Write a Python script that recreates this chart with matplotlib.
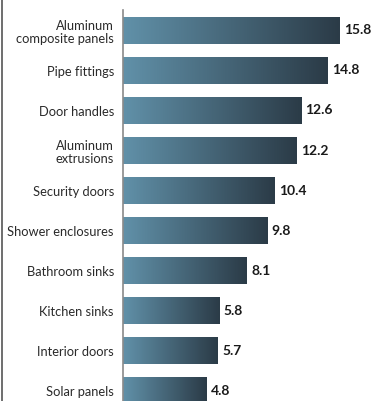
import numpy as np
import matplotlib.pyplot as plt
from matplotlib.colors import LinearSegmentedColormap
from matplotlib.lines import Line2D

categories = ["Aluminum\ncomposite panels", "Pipe fittings", "Door handles",
              "Aluminum\nextrusions", "Security doors", "Shower enclosures",
              "Bathroom sinks", "Kitchen sinks", "Interior doors", "Solar panels"]
values = [15.8, 14.8, 12.6, 12.2, 10.4, 9.8, 8.1, 5.8, 5.7, 4.8]

plt.rcParams['font.family'] = ['Lato', 'DejaVu Sans']

base = -2.15  # bars start a little left of zero, as in the original
cmap = LinearSegmentedColormap.from_list("steel", ["#6191a9", "#2b3b47"])
grad = np.linspace(0, 1, 256).reshape(1, -1)

fig = plt.figure(figsize=(3.75, 4.01), dpi=100)
ax = fig.add_axes([123 / 375, 0, 1 - 123 / 375, 391 / 401])

bar_h = 0.67
y = np.arange(len(values))
bars = ax.barh(y, np.array(values) - base, left=base, height=bar_h, color="none")
for yi, b in zip(y, bars):
    x0 = b.get_x()
    x1 = x0 + b.get_width()
    ax.imshow(grad, cmap=cmap, aspect="auto", interpolation="bilinear",
              extent=(x0, x1, yi + bar_h / 2, yi - bar_h / 2), zorder=2)
    ax.text(x1 + 0.35, yi, f"{values[yi]:.1f}", va="center", ha="left",
            fontsize=10, fontweight="bold", color="#1a1a1a")

ax.set_xlim(base, 18.7)
ax.set_ylim(9.2625, -0.5125)
ax.set_yticks(y)
ax.set_yticklabels(categories, fontsize=9.3, color="#2a2a2a", linespacing=1.15)
ax.tick_params(axis="y", length=0, pad=6.5)
ax.set_xticks([])
for s in ["top", "right", "bottom"]:
    ax.spines[s].set_visible(False)
ax.spines["left"].set_color("#8a8a8a")
ax.spines["left"].set_linewidth(1.2)

# thin frame line at the far left
fig.add_artist(Line2D([2 / 375, 2 / 375], [0, 1], color="#555555", lw=1.2))

fig.savefig("out.png", dpi=100)
